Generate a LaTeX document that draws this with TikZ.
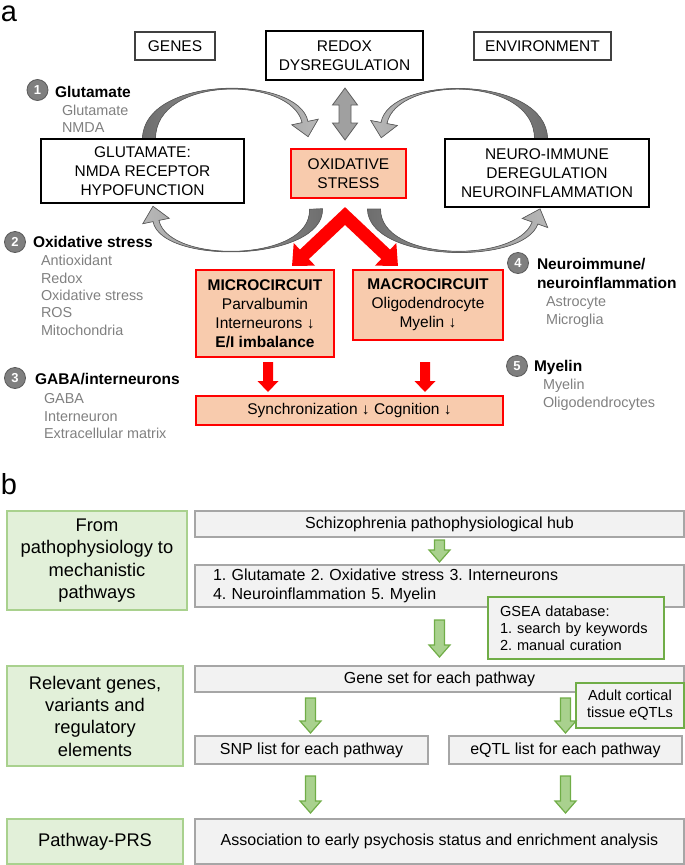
\documentclass[tikz,border=0pt]{standalone}
\usepackage{fontspec}
\setmainfont{Liberation Sans}
\usetikzlibrary{calc,arrows.meta}
\pgfdeclarelayer{bg}
\pgfsetlayers{bg,main}
\frenchspacing
\definecolor{peach}{HTML}{F8CBAD}
\definecolor{myred}{HTML}{FF0000}
\definecolor{itemgray}{HTML}{808080}
\definecolor{numgray}{HTML}{7F7F7F}
\definecolor{numdark}{HTML}{5A5A5A}
\definecolor{arrdark}{HTML}{6E6E6E}
\definecolor{arrlight}{HTML}{B8B8B8}
\definecolor{arrmid}{HTML}{A0A0A0}
\definecolor{arredge}{HTML}{5F5F5F}
\definecolor{gfill}{HTML}{E2F0D9}
\definecolor{gedge}{HTML}{A9D18E}
\definecolor{gdark}{HTML}{70AD47}
\definecolor{boxfill}{HTML}{F2F2F2}
\definecolor{boxedge}{HTML}{A6A6A6}
\newcommand\fontBox{\fontsize{15.5}{19}\selectfont}
\newcommand\fontHdr{\fontsize{15.5}{18.5}\selectfont\bfseries}
\newcommand\fontItm{\fontsize{14.4}{17.3}\selectfont}
\newcommand\fontNum{\fontsize{13}{13}\selectfont\bfseries}
\newcommand\fontGreen{\fontsize{18.3}{22.3}\selectfont}
\newcommand\fontPB{\fontsize{16}{19}\selectfont}
\newcommand\fontSm{\fontsize{14.6}{17}\selectfont}
\newcommand\fontLbl{\fontsize{29}{29}\selectfont}
% vertical block arrow: style, top point, tip point, shaft half width, head half width, head length
\newcommand\vblk[6]{%
  \filldraw[#1] let \p1=#2, \p2=#3 in
   (\x1-#4,\y1) -- (\x1+#4,\y1) -- (\x1+#4,\y2+#6) -- (\x1+#5,\y2+#6) -- (\x1,\y2)
   -- (\x1-#5,\y2+#6) -- (\x1-#4,\y2+#6) -- cycle;}
% vertical double block arrow
\newcommand\vdbl[6]{%
  \filldraw[#1] let \p1=#2, \p2=#3 in
   (\x1,\y1) -- (\x1+#5,\y1-#6) -- (\x1+#4,\y1-#6) -- (\x1+#4,\y2+#6) -- (\x1+#5,\y2+#6)
   -- (\x1,\y2) -- (\x1-#5,\y2+#6) -- (\x1-#4,\y2+#6) -- (\x1-#4,\y1-#6) -- (\x1-#5,\y1-#6) -- cycle;}
% tapered curved arrow along a cubic curve
\newcommand\taper[5]{%
  \coordinate (tA) at #2; \coordinate (tB) at #3; \coordinate (tC) at #4; \coordinate (tD) at #5;
  \filldraw[#1] ($(tA)!6.5pt!90:(tB)$) .. controls ($(tB)!6pt!-90:(tA)$) and ($(tC)!3.5pt!90:(tD)$) .. ($(tD)!3pt!-90:(tC)$)
   -- ($(tD)!13.5pt!-90:(tC)$) -- ($(tD)!-15pt!(tC)$) -- ($(tD)!13.5pt!90:(tC)$)
   -- ($(tD)!3pt!90:(tC)$) .. controls ($(tC)!3.5pt!-90:(tD)$) and ($(tB)!6pt!90:(tA)$) .. ($(tA)!6.5pt!-90:(tB)$) -- cycle;}
\begin{document}
\begin{tikzpicture}[x=1pt,y=-1pt,
  every node/.style={inner sep=0pt,outer sep=0pt},
  thinbox/.style={draw=black!75,line width=1.2pt,fill=white,font=\fontBox},
  thickbox/.style={draw=black,line width=2.4pt,fill=white,align=center,font=\fontBox},
  redbox/.style={draw=myred,line width=2.4pt,fill=peach,align=center,font=\fontBox},
  hdr/.style={anchor=base west,font=\fontHdr},
  itm/.style={anchor=base west,font=\fontItm,text=itemgray},
  numc/.style={circle,fill=numgray,draw=numdark,line width=0.8pt,minimum size=21pt,text=white,font=\fontNum},
  gbox/.style={fill=gfill,draw=gedge,line width=1.5pt,align=center,font=\fontGreen},
  pbox/.style={fill=boxfill,draw=boxedge,line width=2pt,align=center,font=\fontPB},
  nbox/.style={fill=boxfill,draw=gdark,line width=1.5pt,font=\fontSm},
  garrow/.style={fill=gedge,draw=gdark,line width=1.2pt,line join=miter},
  redarr/.style={fill=myred,draw=none},
  dblarr/.style={fill=arrmid,draw=arredge,line width=0.8pt,line join=miter},
  tapered/.style={draw=arredge,line width=0.7pt,line join=miter},
  lbl/.style={anchor=base west,font=\fontLbl}]
\useasboundingbox (0,0) rectangle (685,865);

% ---------------- panel a ----------------
\node[lbl] (la) at (1,21.5) {a};
\node[thinbox,minimum width=80pt,minimum height=28pt] (genes) at (175,46) {GENES};
\node[thickbox,minimum width=157pt,minimum height=49pt] (redox) at (344.5,55.5) {REDOX\\DYSREGULATION};
\node[thinbox,minimum width=137pt,minimum height=28pt] (env) at (542.5,46) {ENVIRONMENT};
\node[thickbox,minimum width=203pt,minimum height=64pt] (glut) at (142.5,171) {GLUTAMATE:\\NMDA RECEPTOR\\HYPOFUNCTION};
\node[redbox,minimum width=115pt,minimum height=49pt] (oxid) at (348.5,173.5) {OXIDATIVE\\STRESS};
\node[thickbox,minimum width=204pt,minimum height=68pt] (neuro) at (547,173) {NEURO-IMMUNE\\DEREGULATION\\NEUROINFLAMMATION};
\node[redbox,minimum width=138pt,minimum height=87pt] (micro) at (265,313.5) {\textbf{MICROCIRCUIT}\\Parvalbumin\\Interneurons ↓\\\textbf{E/I imbalance}};
\node[redbox,minimum width=150pt,minimum height=70pt] (macro) at (428,305) {\textbf{MACROCIRCUIT}\\Oligodendrocyte\\Myelin ↓};
\node[redbox,minimum width=307pt,minimum height=29pt] (sync) at (349.5,410.5) {Synchronization ↓ Cognition ↓};

\begin{pgfonlayer}{bg}
  \taper{tapered,left color=arrdark,right color=arrlight}{($(glut.north)+(6.5,0)$)}{(149,75)}{(295,75)}{(305,122)}
  \taper{tapered,left color=arrlight,right color=arrdark}{($(neuro.north)+(-6,0)$)}{(541,75)}{(393,75)}{(384,123)}
  \taper{tapered,left color=arrlight,right color=arrdark}{($(oxid.south)+(-32.5,11)$)}{(318,262)}{(165,265)}{(156,221)}
  \taper{tapered,left color=arrdark,right color=arrlight}{($(oxid.south)+(25.5,11)$)}{(374,262)}{(520,265)}{(535,223)}
\end{pgfonlayer}

\vdbl{dblarr}{($(redox.south)+(0.5,8)$)}{($(oxid.north)+(-3.5,-9)$)}{6pt}{12.5pt}{17pt}

\coordinate (apex) at ($(oxid.south)+(-3.5,18)$);
\coordinate (mtip) at ($(micro.north east)+(-42,-4)$);
\coordinate (Mtip) at ($(macro.north west)+(45,-4)$);
\draw[myred,line width=13pt,line join=miter,{Triangle[width=30pt,length=17pt]}-{Triangle[width=30pt,length=17pt]}] (mtip) -- (apex) -- (Mtip);

\vblk{redarr}{($(micro.south)+(3,5)$)}{($(micro.south |- sync.north)+(3,-4)$)}{5pt}{10.5pt}{11pt}
\vblk{redarr}{($(macro.south |- micro.south)+(-3,5)$)}{($(macro.south |- sync.north)+(-3,-4)$)}{5pt}{10.5pt}{11pt}

\node[numc] (n1) at (37.5,90) {1};
\node[hdr] (h1) at (55,97.6) {Glutamate};
\node[itm] (i11) at (62,115.2) {Glutamate};
\node[itm] (i12) at (62,132.2) {NMDA};

\node[numc] (n2) at (15,242) {2};
\node[hdr] (h2) at (33,247.6) {Oxidative stress};
\node[itm] (i21) at (41,265.9) {Antioxidant};
\node[itm] (i22) at (41,283.2) {Redox};
\node[itm] (i23) at (41,300.9) {Oxidative stress};
\node[itm] (i24) at (41,317.9) {ROS};
\node[itm] (i25) at (41,335.2) {Mitochondria};

\node[numc] (n3) at (15,378) {3};
\node[hdr] (h3) at (35,384.6) {GABA/interneurons};
\node[itm] (i31) at (44,403.2) {GABA};
\node[itm] (i32) at (44,421.2) {Interneuron};
\node[itm] (i33) at (44,438.2) {Extracellular matrix};

\node[numc] (n4) at (518,263) {4};
\node[hdr] (h4) at (537,269.6) {Neuroimmune/};
\node[hdr] (h4b) at (537,288.6) {neuroinflammation};
\node[itm] (i41) at (546,306.2) {Astrocyte};
\node[itm] (i42) at (546,324.2) {Microglia};

\node[numc] (n5) at (517,366) {5};
\node[hdr] (h5) at (534,371.6) {Myelin};
\node[itm] (i51) at (543,389.2) {Myelin};
\node[itm] (i52) at (543,407.2) {Oligodendrocytes};

% ---------------- panel b ----------------
\node[lbl] (lb) at (1,494) {b};
\node[gbox,minimum width=180pt,minimum height=99pt] (g1) at (97,560.5) {From\\pathophysiology to\\mechanistic\\pathways};
\node[gbox,minimum width=176pt,minimum height=100pt] (g2) at (95,716) {Relevant genes,\\variants and\\regulatory\\elements};
\node[gbox,minimum width=176pt,minimum height=45pt] (g3) at (95,841.5) {Pathway-PRS};

\node[pbox,minimum width=489pt,minimum height=26pt] (hub) at (439.5,524) {Schizophrenia pathophysiological hub};
\node[pbox,minimum width=489pt,minimum height=42pt,align=left,text width=453pt] (list) at (439.5,586) {1. Glutamate 2. Oxidative stress 3. Interneurons\\4. Neuroinflammation 5. Myelin};
\node[pbox,minimum width=489pt,minimum height=26pt] (gene) at (439.5,679) {Gene set for each pathway};
\node[pbox,minimum width=233pt,minimum height=28pt] (snp) at (311.5,750) {SNP list for each pathway};
\node[pbox,minimum width=233pt,minimum height=28pt] (eqtl) at (565.5,750) {eQTL list for each pathway};
\node[pbox,minimum width=489pt,minimum height=45pt] (assoc) at (439.5,841.5) {Association to early psychosis status and enrichment analysis};

\node[nbox,minimum width=176pt,minimum height=62pt,align=left,text width=152pt] (gsea) at (576,628) {GSEA database:\\1. search by keywords\\2. manual curation};
\node[nbox,minimum width=108pt,minimum height=45pt,align=center] (adult) at (630,705.5) {Adult cortical\\tissue eQTLs};

\vblk{garrow}{($(hub.south)+(0,3)$)}{($(list.north)+(0,-3)$)}{5pt}{10.5pt}{12pt}
\vblk{garrow}{($(list.south)+(0,13)$)}{($(gene.north)+(0,-9)$)}{5pt}{10.5pt}{12pt}
\vblk{garrow}{($(snp.north |- gene.south)+(-1,6)$)}{($(snp.north)+(0,-3)$)}{5pt}{10.5pt}{12pt}
\vblk{garrow}{($(eqtl.north |- gene.south)+(0,6)$)}{($(eqtl.north)+(0,-3)$)}{5pt}{10.5pt}{12pt}
\vblk{garrow}{($(snp.south)+(-1,12)$)}{($(snp.south |- assoc.north)+(0,-6)$)}{5pt}{10.5pt}{12pt}
\vblk{garrow}{($(eqtl.south)+(0,12)$)}{($(eqtl.south |- assoc.north)+(0,-6)$)}{5pt}{10.5pt}{12pt}
\end{tikzpicture}
\end{document}
